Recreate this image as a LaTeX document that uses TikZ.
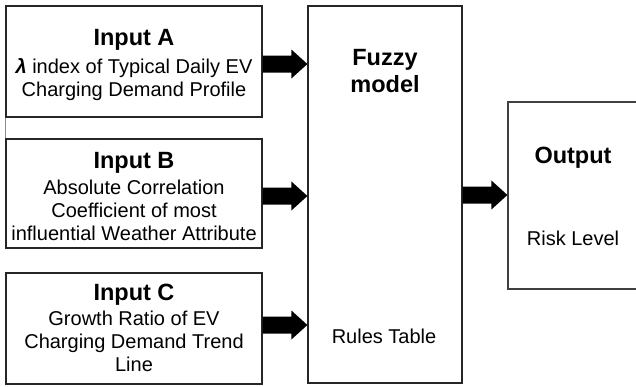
\documentclass[tikz,border=0pt]{standalone}
\usepackage{fontspec}
\setmainfont{Liberation Sans}
\usetikzlibrary{calc}
\newcommand\blockarrow[2]{%
  \fill[black] let \p1=(#1), \p2=(#2) in
    (\x1,\y1+8.5pt) -- (\x2-16pt,\y1+8.5pt) -- (\x2-16pt,\y1+14.5pt) --
    (\x2,\y1) -- (\x2-16pt,\y1-14.5pt) -- (\x2-16pt,\y1-8.5pt) --
    (\x1,\y1-8.5pt) -- cycle;}
\tikzset{
  box/.style={draw=black!85, line width=1.2pt, rectangle, inner sep=0pt},
  title/.style={anchor=base, inner sep=0pt, font=\fontsize{23.5}{27}\selectfont\bfseries},
  body/.style={anchor=base, inner sep=0pt, align=center, font=\fontsize{20}{23}\selectfont},
}
\begin{document}
\begin{tikzpicture}[x=1pt,y=-1pt]
\clip (0,0) rectangle (636,386);
\fill[white] (0,0) rectangle (636,386);
% boxes
\node[box, minimum width=256pt, minimum height=111pt] (A) at (134,61.5) {};
\node[box, minimum width=256pt, minimum height=109pt] (B) at (134,193.5) {};
\node[box, minimum width=256pt, minimum height=111pt] (C) at (134,328.5) {};
\node[box, minimum width=154pt, minimum height=377pt] (F) at (385,194.5) {};
\node[box, draw=black!75, minimum width=132pt, minimum height=187pt] (O) at (574,195.5) {};
\draw[black!45, line width=1pt] (A.south west) -- (B.north west);
% texts (a multi-line node's base is the baseline of its last line)
\node[title] (tA) at (134,45) {Input A};
\node[body] (bA) at (134,96) {\textbf{\textit{λ}} index of Typical Daily EV\\Charging Demand Profile};
\node[title] (tB) at (134,168) {Input B};
\node[body] (bB) at (134,240) {Absolute Correlation\\Coefficient of most\\influential Weather Attribute};
\node[title] (tC) at (134,300) {Input C};
\node[body] (bC) at (134,371) {Growth Ratio of EV\\Charging Demand Trend\\Line};
\node[title, align=center] (tF) at (385,92) {Fuzzy\\model};
\node[body] (rF) at (384,343) {Rules Table};
\node[title] (tO) at (573,163) {Output};
\node[body] (rO) at (573,245) {Risk Level};
% arrows
\path ($(A.east)+(0,2.5)$) coordinate (sA);
\path ($(B.east)+(0,2.5)$) coordinate (sB);
\path ($(C.east)+(0,-3.5)$) coordinate (sC);
\path ($(F.east)+(0,0.5)$) coordinate (sF);
\blockarrow{sA}{F.west |- sA}
\blockarrow{sB}{F.west |- sB}
\blockarrow{sC}{F.west |- sC}
\blockarrow{sF}{O.west |- sF}
\end{tikzpicture}
\end{document}
